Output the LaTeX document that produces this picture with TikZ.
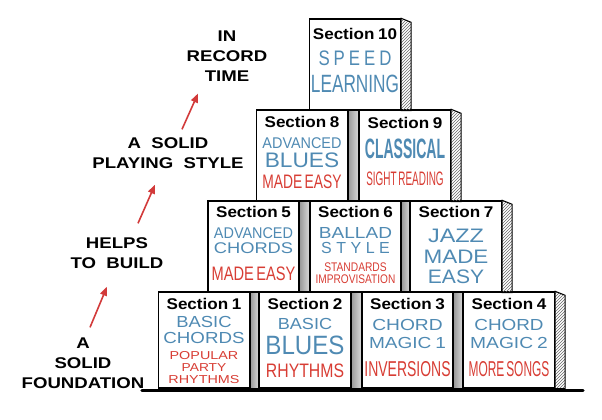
\documentclass[tikz,border=0pt]{standalone}
\usepackage{fontspec}
\setmainfont{Liberation Sans}
\newfontfamily\stagefont[FakeStretch=1.2, WordSpace=2]{Liberation Sans}
\usetikzlibrary{positioning,arrows.meta,patterns,backgrounds}
\definecolor{secblue}{HTML}{4F8AB3}
\definecolor{secred}{HTML}{D83D34}
\definecolor{risered}{HTML}{D23A3A}

% one line of a block: size, skip, horizontal scale, colour, text
\newcommand{\bline}[5]{{\fontsize{#1}{#2}\selectfont\leavevmode\color{#4}\scalebox{#3}[1]{#5}\par}}
\newcommand{\secttitle}[1]{\bline{15.5}{16}{1.1}{black}{\bfseries Section #1}}

\tikzset{
  block/.style={draw, line width=1.4pt, fill=white, inner sep=0pt,
                minimum width=91pt, minimum height=#1},
  block/.default=91pt,
  blocktext/.style={text width=91pt, align=center, inner sep=0pt,
                    execute at begin node=\setlength{\parindent}{0pt}},
  gap/.style={draw, line width=0.8pt, left color=gray!80, right color=gray!30},
  side/.style={draw, line width=1pt, pattern=north east lines, pattern color=black!60},
  stage/.style={font=\stagefont\bfseries\fontsize{15.5}{20}\selectfont,
                align=center, inner sep=0pt},
  rise/.style={draw=risered, line width=1.6pt, -{Triangle[length=9pt,width=7pt]}},
  ground/.style={line width=3pt, line cap=round}
}

\begin{document}
\begin{tikzpicture}[x=1pt, y=1pt]
  \useasboundingbox (0,0) rectangle (602,420);

  % bottom row
  \node[block=96pt] (s1) at (204,80) {};
  \node[block=96pt] (s2) at (305,80) {};
  \node[block=96pt] (s3) at (407.5,80) {};
  \node[block=96pt] (s4) at (509,80) {};
  % second row
  \node[block] (s5) at (253.5,173.5) {};
  \node[block] (s6) at (355.5,173.5) {};
  \node[block] (s7) at (456,173.5) {};
  % third row
  \node[block] (s8) at (302,264.5) {};
  \node[block] (s9) at (405,264.5) {};
  % top
  \node[block] (s10) at (355,355.5) {};

  \begin{scope}[on background layer]
    \path[gap] (s1.north east) rectangle (s2.south west);
    \path[gap] (s2.north east) rectangle (s3.south west);
    \path[gap] (s3.north east) rectangle (s4.south west);
    \path[gap] (s5.north east) rectangle (s6.south west);
    \path[gap] (s6.north east) rectangle (s7.south west);
    \path[gap] (s8.north east) rectangle (s9.south west);
  \end{scope}

  \draw[side] (s4.north east) -- ++(10,-4) |- (s4.south east) -- cycle;
  \draw[side] (s7.north east) -- ++(10,-4) |- (s7.south east) -- cycle;
  \draw[side] (s9.north east) -- ++(10,-4) |- (s9.south east) -- cycle;
  \draw[side] (s10.north east) -- ++(10,-4) |- (s10.south east) -- cycle;

  \draw[ground] ([xshift=-16pt,yshift=-1.5pt]s1.south west) -- ([xshift=28pt,yshift=-1.5pt]s4.south east);

  \node[blocktext, below=6.5pt of s1.north] (t1) {%
    \secttitle{1}
    \bline{16}{18.7}{1.15}{secblue}{BASIC}
    \bline{16}{16}{1.17}{secblue}{CHORDS}
    \bline{11.5}{15.3}{1.25}{secred}{POPULAR}
    \bline{11.5}{12}{1.2}{secred}{PARTY}
    \bline{11.5}{12}{1.25}{secred}{RHYTHMS}};
  \node[blocktext, below=6.5pt of s2.north] (t2) {%
    \secttitle{2}
    \bline{16}{20.7}{1.13}{secblue}{BASIC}
    \bline{26.5}{24.8}{0.91}{secblue}{BLUES}
    \bline{19.5}{22.5}{0.81}{secred}{RHYTHMS}};
  \node[blocktext, below=6.5pt of s3.north] (t3) {%
    \secttitle{3}
    \bline{16}{21.7}{1.2}{secblue}{CHORD}
    \bline{16}{18}{1.19}{secblue}{MAGIC 1}
    \bline{21.5}{27.3}{0.65}{secred}{INVERSIONS}};
  \node[blocktext, below=6.5pt of s4.north] (t4) {%
    \secttitle{4}
    \bline{16}{21.7}{1.18}{secblue}{CHORD}
    \bline{16}{18}{1.2}{secblue}{MAGIC 2}
    \bline{21.5}{27.3}{0.555}{secred}{MORE SONGS}};
  \node[blocktext, below=5.5pt of s5.north] (t5) {%
    \secttitle{5}
    \bline{15.5}{21}{0.93}{secblue}{ADVANCED}
    \bline{15.5}{15}{1.18}{secblue}{CHORDS}
    \bline{19.5}{27.5}{0.75}{secred}{MADE EASY}};
  \node[blocktext, below=5.5pt of s6.north] (t6) {%
    \secttitle{6}
    \bline{16}{21.2}{1.19}{secblue}{BALLAD}
    \bline{16}{15}{1}{secblue}{S\hspace{4.5pt}T\hspace{4.5pt}Y\hspace{4.5pt}L\hspace{4.5pt}E}
    \bline{12.5}{17.8}{0.82}{secred}{STANDARDS}
    \bline{12.5}{12}{0.81}{secred}{IMPROVISATION}};
  \node[blocktext, below=5.5pt of s7.north] (t7) {%
    \secttitle{7}
    \bline{19.5}{25.5}{1.2}{secblue}{JAZZ}
    \bline{19.5}{21}{1.15}{secblue}{MADE}
    \bline{19.5}{20}{1.08}{secblue}{EASY}};
  \node[blocktext, below=7pt of s8.north] (t8) {%
    \secttitle{8}
    \bline{15.5}{20.5}{0.93}{secblue}{ADVANCED}
    \bline{21}{19}{1.08}{secblue}{BLUES}
    \bline{19.5}{21}{0.71}{secred}{MADE EASY}};
  \node[blocktext, below=7.5pt of s9.north] (t9) {%
    \secttitle{9}
    \bline{28}{30.5}{0.5}{secblue}{\bfseries CLASSICAL}
    \bline{19.5}{27}{0.51}{secred}{SIGHT READING}};
  \node[blocktext, below=9.5pt of s10.north] (t10) {%
    \secttitle{10}
    \bline{21}{26}{0.8}{secblue}{S\hspace{5pt}P\hspace{5pt}E\hspace{5pt}E\hspace{5pt}D}
    \bline{25}{27.5}{0.69}{secblue}{LEARNING}};

  % the climb on the left
  \node[stage] (found) at (83,57) {A\\SOLID\\FOUNDATION};
  \node[stage] (helps) at (117,167) {HELPS\\TO BUILD};
  \node[stage] (playing) at (168,267) {A SOLID\\PLAYING STYLE};
  \node[stage] (record) at (227,364) {IN\\RECORD\\TIME};

  \draw[rise] ([xshift=7pt,yshift=10pt]found.north) -- ([xshift=-10pt,yshift=-18pt]helps.south);
  \draw[rise] ([xshift=21pt,yshift=14pt]helps.north) -- ([xshift=-13pt,yshift=-16pt]playing.south);
  \draw[rise] ([xshift=14pt,yshift=8pt]playing.north) -- ([xshift=-29pt,yshift=-12pt]record.south);
\end{tikzpicture}
\end{document}
